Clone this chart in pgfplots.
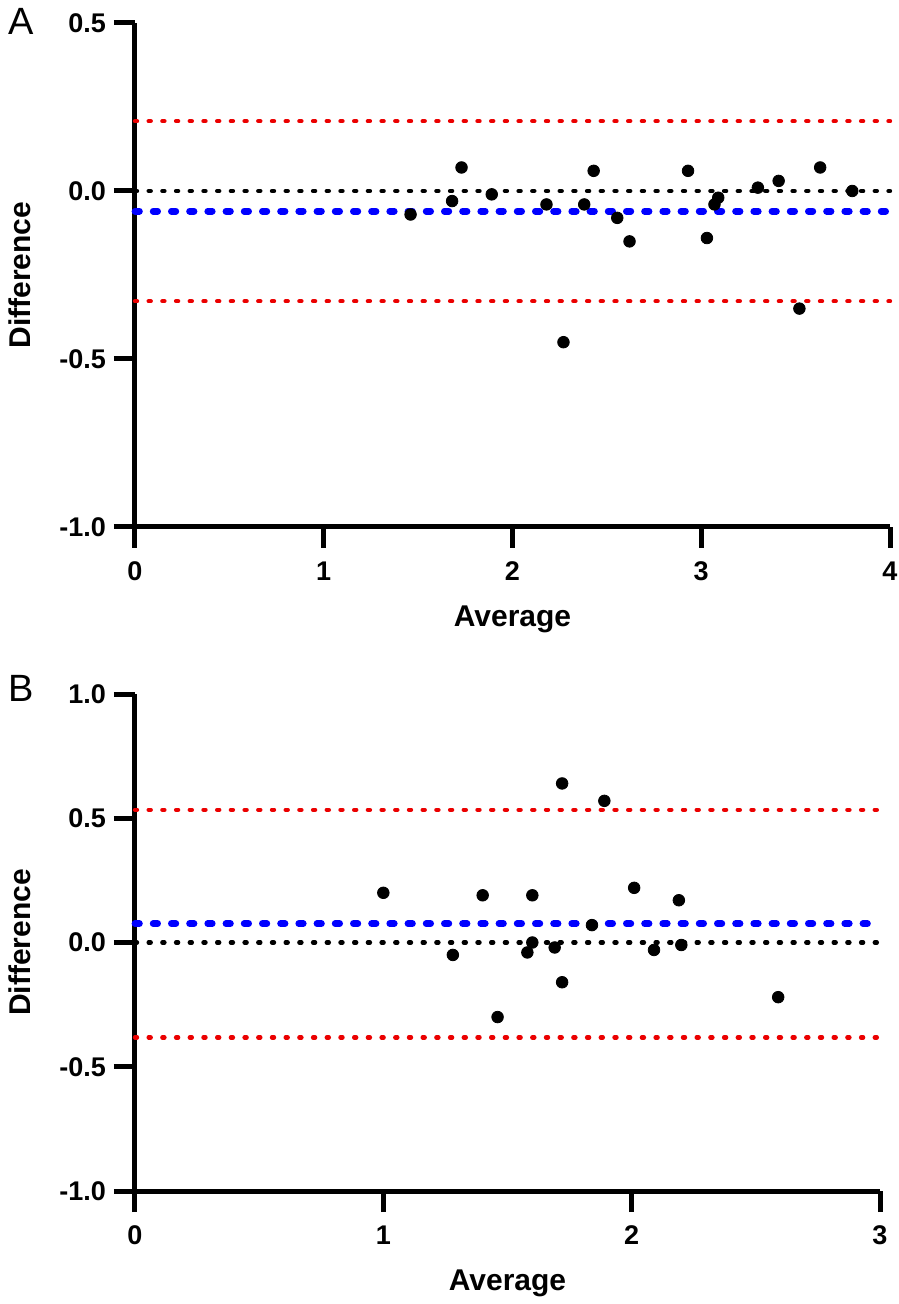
\documentclass[border=0pt]{standalone}
\usepackage{pgfplots}
\pgfplotsset{compat=1.18}
\usepackage{fontspec}
\setmainfont{Liberation Sans}
\definecolor{myred}{RGB}{235,0,0}
\definecolor{myblue}{RGB}{0,0,255}
\pgfplotsset{
 ba/.style={
  scale only axis,
  axis lines=left,
  axis line style={-, line width=2.5pt},
  major tick length=10.5pt,
  tick style={line width=2.5pt, black},
  tick align=outside,
  ticklabel style={font=\bfseries\fontsize{13.5}{13.5}\selectfont},
  xticklabel shift=3.5pt,
  yticklabel shift=0.5pt,
  xlabel={Average}, ylabel={Difference},
  clip=false,
  every axis x label/.style={at={(axis description cs:0.5,0)}, anchor=center, yshift=-46pt, font=\bfseries\fontsize{15}{15}\selectfont},
  every axis y label/.style={anchor=center, rotate=90, font=\bfseries\fontsize{15}{15}\selectfont},
 },
 zline/.style={black, line width=2.2pt, line cap=round, dash pattern=on 1pt off 5.85pt, no marks},
 rline/.style={myred, line width=2.2pt, line cap=round, dash pattern=on 1pt off 5.85pt, no marks},
 bline/.style={myblue, line width=3.4pt, line cap=round, dash pattern=on 2.2pt off 6.9pt, no marks},
 pts/.style={only marks, mark=*, mark size=2.9pt, black},
}
\begin{document}
\begin{tikzpicture}
\path[use as bounding box] (-67.5pt,-388.5pt) rectangle (381.5pt,263.5pt);
% Panel A
\begin{axis}[ba, at={(0pt,0pt)}, anchor=south west,
  width=377.5pt, height=252pt,
  xmin=0, xmax=4, ymin=-1, ymax=0.5,
  xtick={0,1,2,3,4}, xticklabels={0,1,2,3,4},
  ytick={-1,-0.5,0,0.5}, yticklabels={-1.0,-0.5,0.0,0.5},
  ylabel style={at={(axis description cs:-0.152,0.5)}}]
\addplot[zline] coordinates {(0,0) (4,0)};
\addplot[rline] coordinates {(0,0.208) (4,0.208)};
\addplot[rline] coordinates {(0,-0.328) (4,-0.328)};
\addplot[bline] coordinates {(0,-0.06) (4,-0.06)};
\addplot[pts] coordinates {
(1.46,-0.07) (1.68,-0.03) (1.73,0.07) (1.89,-0.01) (2.18,-0.04)
(2.27,-0.45) (2.38,-0.04) (2.43,0.06) (2.555,-0.08) (2.62,-0.15)
(2.93,0.06) (3.03,-0.14) (3.07,-0.04) (3.09,-0.02) (3.30,0.01)
(3.41,0.03) (3.52,-0.35) (3.63,0.07) (3.80,0.00)};
\end{axis}
\node[anchor=north west, inner sep=0pt, font=\fontsize{19}{19}\selectfont] at (-63.5pt,259.5pt) {A};
% Panel B
\begin{axis}[ba, at={(0pt,-332pt)}, anchor=south west,
  width=372.5pt, height=248.5pt,
  xmin=0, xmax=3, ymin=-1, ymax=1,
  xtick={0,1,2,3}, xticklabels={0,1,2,3},
  ytick={-1,-0.5,0,0.5,1}, yticklabels={-1.0,-0.5,0.0,0.5,1.0},
  ylabel style={at={(axis description cs:-0.154,0.5)}}]
\addplot[zline] coordinates {(0,0) (3,0)};
\addplot[rline] coordinates {(0,0.534) (3,0.534)};
\addplot[rline] coordinates {(0,-0.382) (3,-0.382)};
\addplot[bline] coordinates {(0,0.076) (3,0.076)};
\addplot[pts] coordinates {
(1.00,0.20) (1.28,-0.05) (1.40,0.19) (1.46,-0.30) (1.58,-0.04)
(1.60,0.00) (1.60,0.19) (1.69,-0.02) (1.72,0.64) (1.72,-0.16)
(1.84,0.07) (1.89,0.57) (2.01,0.22) (2.09,-0.03) (2.19,0.17)
(2.20,-0.01) (2.59,-0.22)};
\end{axis}
\node[anchor=north west, inner sep=0pt, font=\fontsize{19}{19}\selectfont] at (-63.5pt,-74pt) {B};
\end{tikzpicture}
\end{document}
